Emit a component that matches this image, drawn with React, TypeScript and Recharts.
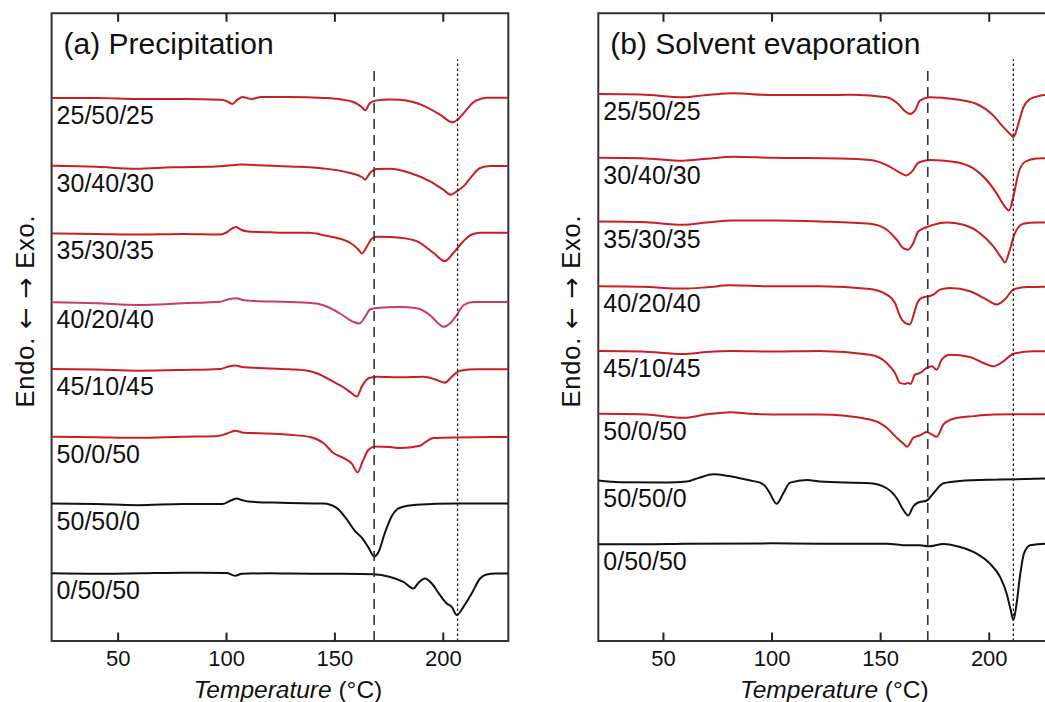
import { LineChart, Line, XAxis, YAxis, ReferenceLine, ReferenceArea, Label, LabelList } from 'recharts';

type Pt = [number, number]; // [temperature °C, heat-flow signal a.u. relative to its baseline]

const FONT = '"Liberation Sans", Arial, Helvetica, sans-serif';
const ARROW_FONT = '"DejaVu Sans", sans-serif';

const compositions = ['25/50/25', '30/40/30', '35/30/35', '40/20/40', '45/10/45', '50/0/50', '50/50/0', '0/50/50'];
const xTicks = [50, 100, 150, 200];
const Y_MAX = 63;
const TICK_LEN = 0.85;

// vertical offsets of each trace (a.u.), top to bottom
const precipOffsets = [54.5, 47.7, 40.9, 34.0, 27.3, 20.5, 13.8, 6.8];
const evapOffsets = [54.9, 48.5, 42.1, 35.6, 29.1, 22.8, 16.1, 9.7];

const precipColors = ['#c81e24', '#c81e24', '#c81e24', '#c63c70', '#c81e24', '#c81e24', '#111', '#111'];
const evapColors = ['#c81e24', '#c81e24', '#c81e24', '#c81e24', '#c81e24', '#c81e24', '#111', '#111'];

// (a) Precipitation
const pre25: Pt[] = [[19.3, 0], [40, 0], [60, -0.1], [80, -0.1], [97, -0.17], [100, -0.3], [102.7, -0.6], [105, -0.17], [107.4, 0.1], [109.5, 0], [111.4, -0.1], [116, 0.1], [129, 0.1], [145, 0], [153, -0.15], [158.5, -0.4], [162.4, -0.9], [163.9, -1.24], [166.2, -0.5], [169.3, -0.24], [175, -0.15], [180, -0.17], [186, -0.4], [190.8, -0.77], [198.5, -1.67], [204.3, -2.44], [207, -2.1], [210.8, -1.17], [213, -0.6], [215.4, -0.24], [220, 0.03], [230, 0.03]];
const pre30: Pt[] = [[19.3, 0], [40, -0.1], [58, -0.3], [75, -0.15], [95, -0.07], [102, 0.05], [106.7, 0.13], [115, 0.05], [129.3, -0.07], [144.7, -0.27], [157, -0.73], [162.4, -1.13], [163.9, -1.4], [166.2, -0.73], [169.3, -0.33], [175.5, -0.3], [184.7, -0.73], [193.9, -1.57], [200, -2.4], [203.5, -2.9], [206.2, -2.57], [209.3, -2.07], [213.1, -1.07], [217, -0.23], [221.6, -0.03], [230, -0.03]];
const pre35: Pt[] = [[19.3, 0], [40, -0.05], [60, -0.1], [80, -0.05], [97, -0.1], [100, 0.1], [103, 0.55], [104.5, 0.65], [106.5, 0.4], [109.8, 0.2], [120, 0.12], [129.3, 0.07], [138.4, 0.07], [144.7, -0.17], [150, -0.4], [157, -0.93], [160.8, -1.6], [162.5, -2.0], [165, -1.2], [167, -0.53], [169.3, -0.33], [175, -0.35], [180, -0.43], [187.7, -0.77], [195.4, -1.93], [200.8, -2.77], [204.7, -1.93], [209.3, -0.77], [213.1, -0.1], [217, 0.07], [230, 0.07]];
const pre40: Pt[] = [[19.3, 0], [40, -0.1], [59, -0.27], [80, -0.1], [97, 0.05], [101, 0.3], [104.5, 0.4], [108, 0.2], [112, 0.13], [129.3, 0.03], [141.6, -0.13], [147, -0.5], [152.4, -1.13], [158.5, -1.97], [161.3, -2.13], [163.9, -1.47], [166.2, -0.73], [169.3, -0.57], [180, -0.47], [187.7, -0.6], [193.9, -1.3], [197.7, -2.13], [200, -2.47], [203.1, -2.13], [206.2, -1.3], [209.3, -0.3], [213.9, 0.03], [230, 0.03]];
const pre45: Pt[] = [[19.3, 0], [40, -0.05], [59, -0.17], [80, -0.1], [97, 0], [101, 0.25], [104, 0.35], [108, 0.17], [115, 0.1], [129.3, -0.03], [138, -0.2], [141.6, -0.43], [149.3, -1.27], [153.9, -1.83], [157, -2.3], [160.1, -2.77], [162.4, -1.77], [165.5, -0.93], [169.3, -0.77], [180, -0.83], [190.8, -0.77], [197, -1.1], [200.8, -1.37], [203.9, -0.77], [207.8, -0.17], [215.5, -0.03], [230, -0.03]];
const pre50a: Pt[] = [[19.3, 0], [40, -0.05], [59, -0.1], [80, 0], [95, 0.05], [100, 0.3], [104, 0.6], [108, 0.4], [115, 0.35], [129.3, 0.2], [138.5, -0.03], [144.7, -0.63], [149.3, -1.63], [153.9, -2.13], [157.8, -2.7], [160.5, -3.57], [162.8, -2.47], [165.5, -1.3], [168.5, -0.97], [175.5, -1.03], [180, -1.13], [189.3, -0.9], [191.6, -0.57], [195.4, -0.13], [206.2, -0.07], [230, -0.03]];
const pre50b: Pt[] = [[19.3, 0], [40, -0.05], [59, -0.17], [80, -0.05], [98, -0.05], [102, 0.3], [104.7, 0.5], [107, 0.35], [110, 0.2], [125, 0.07], [144.7, 0], [150.8, -0.43], [155.5, -1.6], [159.3, -2.77], [162.4, -3.43], [165.5, -4.43], [168.2, -5.33], [170, -4.93], [173.1, -2.93], [176.2, -1.27], [180, -0.43], [187.7, -0.13], [206.2, 0], [230, 0]];
const pre0: Pt[] = [[19.3, 0], [40, -0.05], [60, 0], [80, 0.05], [100, 0.02], [104, -0.25], [107, -0.05], [120, 0], [129.3, -0.03], [150, -0.05], [167.8, -0.1], [175.5, -0.37], [181.6, -0.87], [186.2, -1.53], [188.5, -0.97], [191.6, -0.53], [194.7, -1.03], [198.5, -2.2], [201.6, -3.03], [203.9, -3.37], [206.2, -4.2], [209.3, -3.37], [213.1, -2.03], [217, -0.53], [220, -0.13], [223.9, -0.03], [230, -0.03]];

// (b) Solvent evaporation
const eva25: Pt[] = [[20, 0], [40, -0.05], [59, -0.33], [70, -0.1], [82, 0.07], [100, -0.1], [131, -0.1], [137.4, -0.07], [152.8, -0.33], [158.1, -1], [161.2, -1.73], [163.5, -2], [165.8, -1.67], [168.1, -0.67], [172.7, -0.33], [183.5, -0.5], [194.2, -1], [201.9, -2.17], [206.5, -3.33], [210.3, -4.17], [211.1, -4.33], [213.4, -3], [215.7, -1.33], [218.8, -0.5], [223.4, -0.17], [230, -0.03]];
const eva30: Pt[] = [[20, 0], [40, -0.05], [59, -0.3], [70, -0.1], [82, 0.1], [100, 0], [131, -0.07], [145.1, -0.23], [152.8, -0.73], [158.9, -1.5], [161.7, -1.77], [165, -1.23], [167.3, -0.5], [172.7, -0.23], [183.5, -0.4], [192.7, -1.07], [198.8, -2.23], [203.4, -3.57], [207.2, -4.9], [209.1, -5.3], [211.1, -3.9], [213.4, -1.57], [216.5, -0.4], [221.8, -0.07], [230, -0.03]];
const eva35: Pt[] = [[20, 0], [40, -0.05], [59, -0.33], [70, -0.1], [82, 0.1], [100, 0.1], [122.1, 0], [145.1, -0.23], [152.8, -0.83], [157.4, -1.83], [160.4, -2.67], [162.7, -2.83], [165, -2.17], [167.3, -1], [171.2, -0.57], [174.3, -0.33], [180.4, -0.1], [188.1, -0.33], [195.7, -1.17], [201.9, -2.5], [205.7, -3.67], [207.2, -4.1], [209.5, -2.83], [211.8, -1.17], [215.7, -0.23], [221.8, -0.1], [230, -0.1]];
const eva40: Pt[] = [[20, 0], [40, -0.05], [59, -0.23], [70, -0.1], [80.6, 0.1], [100, 0], [122.1, 0], [145.1, -0.27], [152.8, -0.83], [156.6, -1.67], [158.9, -3], [161.2, -3.67], [163.5, -3.83], [165, -3], [166.6, -1.83], [168.9, -1.17], [172, -1], [174.3, -0.83], [177.3, -0.33], [181.9, -0.17], [191.1, -0.5], [198.8, -1.33], [203.4, -1.83], [207.2, -1.33], [211.1, -0.33], [217.2, -0.07], [230, -0.03]];
const eva45: Pt[] = [[20, 0], [40, -0.05], [59, -0.3], [70, -0.1], [82, 0], [100, -0.05], [122.1, 0], [145.1, -0.37], [152.8, -1.2], [156.6, -2.2], [158.9, -3.2], [161.2, -3.3], [162.7, -3.2], [163.8, -3.3], [165.8, -2.37], [168.1, -2.2], [171.2, -1.7], [173.5, -1.53], [175.8, -1.87], [178.1, -0.87], [181.9, -0.37], [191.1, -0.6], [197.3, -1.2], [201.9, -1.53], [206.5, -1.03], [211.1, -0.27], [220.3, -0.03], [230, 0]];
const eva50a: Pt[] = [[20, 0], [40, -0.05], [59, -0.4], [70, -0.05], [80.6, 0.17], [90, 0], [100, -0.07], [122.1, -0.07], [145.1, -0.57], [152.8, -1.4], [157.4, -2.4], [160.4, -2.97], [162.3, -3.3], [165, -2.4], [168.1, -2.17], [171.2, -1.83], [173.5, -2.07], [175.8, -2.3], [178.9, -1.07], [183.5, -0.5], [192.7, -0.23], [201.9, -0.07], [230, -0.03]];
const eva50b: Pt[] = [[20, 0], [30, -0.17], [51.5, -0.2], [60.7, -0.1], [66, 0.25], [73, 0.63], [80, 0.45], [85.2, 0.23], [90, 0], [94.4, -0.2], [97, -0.6], [99, -1.27], [102.1, -2.33], [105.2, -1.27], [108.3, -0.2], [116, 0.07], [122.1, -0.1], [145.1, -0.27], [152.8, -0.77], [157.4, -1.77], [160.4, -2.93], [162.7, -3.5], [165, -2.6], [167.3, -2.2], [171.2, -2], [174.3, -1.27], [178.9, -0.27], [186.5, -0.03], [205, 0.1], [230, 0.23]];
const eva0: Pt[] = [[20, 0], [40, 0], [60, 0.05], [100, 0.1], [122.1, 0.07], [152.8, 0.07], [162, -0.1], [168, -0.1], [172, -0.2], [178.9, 0.03], [186.5, -0.27], [194.2, -0.93], [200.3, -1.93], [205, -3.27], [208, -4.93], [209.9, -6.6], [211.1, -7.6], [212.6, -5.93], [214.1, -3.27], [216, -0.93], [218.8, -0.1], [225.7, 0.07], [230, 0.07]];

const precipCurves = [pre25, pre30, pre35, pre40, pre45, pre50a, pre50b, pre0];
const evapCurves = [eva25, eva30, eva35, eva40, eva45, eva50a, eva50b, eva0];

interface PanelProps {
  title: string;
  curves: Pt[][];
  offsets: number[];
  colors: string[];
  xMin: number;
  dashedAt: number;
  dottedAt: number;
  marginLeft: number;
  marginRight: number;
}

const TickLabel = (props: any) => {
  const { x, y, payload } = props;
  return (
    <text x={x} y={y + 25} textAnchor="middle" fontSize={22} fontFamily={FONT} fill="#111">{payload.value}</text>
  );
};

const nameLabel = (name: string) => (props: any) => {
  if (props.index !== 0) return null;
  return (
    <text x={props.x + 5} y={props.y + 26} fontSize={25} fontFamily={FONT} fill="#111">{name}</text>
  );
};

const Panel = ({ title, curves, offsets, colors, xMin, dashedAt, dottedAt, marginLeft, marginRight }: PanelProps) => (
  <LineChart width={540} height={702} margin={{ top: 13.3, right: marginRight, bottom: 21, left: marginLeft - 1 }}>
    <XAxis
      dataKey="t"
      type="number"
      domain={[xMin, 230]}
      ticks={xTicks}
      allowDataOverflow
      height={40}
      tickSize={0}
      tickMargin={0}
      axisLine={false}
      tickLine={false}
      tick={<TickLabel />}
    >
      <Label
        content={(p: any) => (
          <text x={p.viewBox.x + p.viewBox.width / 2 + 8} y={p.viewBox.y + 57} textAnchor="middle" fontSize={24.5} fontFamily={FONT} fill="#111">
            <tspan fontStyle="italic">Temperature</tspan> (°C)
          </text>
        )}
      />
    </XAxis>
    <YAxis type="number" domain={[0, Y_MAX]} width={1} tick={false} axisLine={false} tickLine={false} allowDataOverflow />
    <ReferenceArea
      x1={xMin}
      x2={230}
      y1={0}
      y2={Y_MAX}
      fill="none"
      stroke="#333"
      strokeWidth={2}
      ifOverflow="visible"
      label={(p: any) => (
        <g>
          <text x={p.viewBox.x + 12} y={53.5} fontSize={30} fontFamily={FONT} fill="#111">{title}</text>
          <text
            x={p.viewBox.x - 18}
            y={311}
            textAnchor="middle"
            fontSize={25.5}
            fontFamily={FONT}
            fill="#111"
            letterSpacing={0.8}
            transform={`rotate(-90 ${p.viewBox.x - 18} 311)`}
          >
            Endo. <tspan fontFamily={ARROW_FONT}>←</tspan> <tspan fontFamily={ARROW_FONT}>→</tspan> Exo.
          </text>
        </g>
      )}
    />
    {xTicks.map((t) => (
      <ReferenceLine key={`b${t}`} segment={[{ x: t, y: 0 }, { x: t, y: TICK_LEN }]} stroke="#222" strokeWidth={2} ifOverflow="visible" />
    ))}
    {xTicks.map((t) => (
      <ReferenceLine key={`t${t}`} segment={[{ x: t, y: Y_MAX - TICK_LEN }, { x: t, y: Y_MAX }]} stroke="#222" strokeWidth={2} ifOverflow="visible" />
    ))}
    {curves.map((pts, i) => (
      <Line
        key={compositions[i]}
        data={pts.map(([t, v]) => ({ t, y: offsets[i] + v }))}
        dataKey="y"
        type="monotone"
        stroke={colors[i]}
        strokeWidth={2}
        dot={false}
        isAnimationActive={false}
      >
        <LabelList dataKey="y" content={nameLabel(compositions[i])} />
      </Line>
    ))}
    <ReferenceLine segment={[{ x: dashedAt, y: 0 }, { x: dashedAt, y: 57.8 }]} stroke="#333" strokeWidth={1.6} strokeDasharray="10 6" />
    <ReferenceLine segment={[{ x: dottedAt, y: 0 }, { x: dottedAt, y: 58.4 }]} stroke="#222" strokeWidth={1.3} strokeDasharray="2.5 2.5" />
  </LineChart>
);

export default function App() {
  return (
    <div style={{ position: 'absolute', left: 0, top: 0, width: 1045, height: 702, overflow: 'hidden', background: '#fff' }}>
      <div style={{ position: 'absolute', left: 0, top: 0 }}>
        <Panel
          title="(a) Precipitation"
          curves={precipCurves}
          offsets={precipOffsets}
          colors={precipColors}
          xMin={19.3}
          dashedAt={168.1}
          dottedAt={206.6}
          marginLeft={51.6}
          marginRight={31.7}
        />
      </div>
      <div style={{ position: 'absolute', left: 540, top: 0 }}>
        <Panel
          title="(b) Solvent evaporation"
          curves={evapCurves}
          offsets={evapOffsets}
          colors={evapColors}
          xMin={20}
          dashedAt={171.7}
          dottedAt={211.1}
          marginLeft={58.3}
          marginRight={25.6}
        />
      </div>
    </div>
  );
}
